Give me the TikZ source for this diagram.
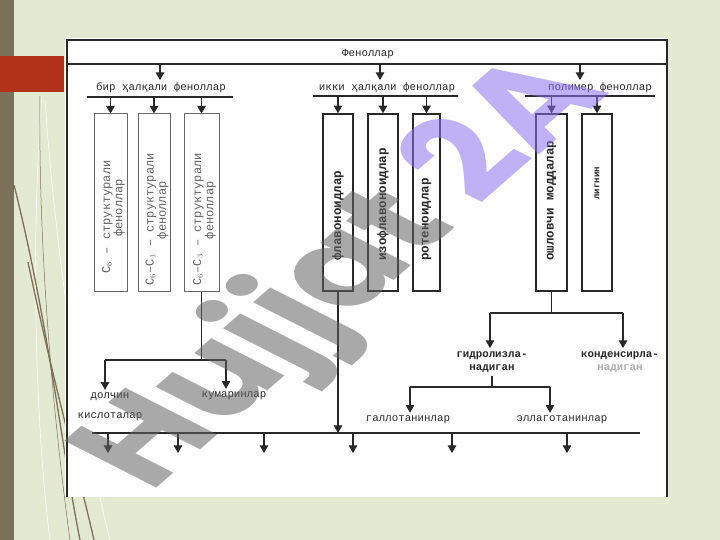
\documentclass[tikz,border=0pt]{standalone}
\usepackage{fontspec}
\setmainfont{Liberation Serif}
\setmonofont{Liberation Mono}
\newfontfamily\wmfont{Poppins}
\usepackage{tikz}
\usetikzlibrary{arrows,shapes,positioning}
\definecolor{bgcol}{RGB}{228,234,210}
\definecolor{barcol}{RGB}{122,113,88}
\definecolor{redcol}{RGB}{178,50,26}
\definecolor{ink}{RGB}{40,40,40}
\definecolor{faded}{RGB}{175,175,175}
\definecolor{wmgray}{RGB}{100,100,100}
\definecolor{wmpurple}{RGB}{138,113,238}
\tikzset{
  lbl/.style={font=\ttfamily\fontsize{10.8}{13}\selectfont, text=ink, inner sep=3pt, align=center},
  lblb/.style={lbl, font=\ttfamily\bfseries\fontsize{10.8}{13.5}\selectfont},
  cbox/.style={draw=ink, line width=1.5pt, minimum width=#1, minimum height=177, inner sep=0pt},
  cbox/.default=30,
  vtxt/.style={rotate=90, anchor=west, inner sep=0pt, align=center, text=ink,
    font=\ttfamily\bfseries\fontsize{12.5}{14}\selectfont},
  vsmall/.style={vtxt, text=black!62, font=\ttfamily\fontsize{12}{10}\selectfont},
  wire/.style={draw=ink, line width=1.1pt},
  sheetline/.style={draw=ink, line width=1.4pt},
  darkcurve/.style={draw=barcol, line width=1.3pt},
  lightcurve/.style={draw=white!70!bgcol, line width=0.8pt}
}
\begin{document}
\begin{tikzpicture}[x=1pt,y=-1pt,>=triangle 60]
  \useasboundingbox (0,0) rectangle (720,540);
  %slide background
    \fill[bgcol] (0,0) rectangle (720,540);
    \fill[barcol] (0,0) rectangle (14,540);
    \draw[lightcurve] (42,95) .. controls (30,250) and (36,430) .. (50,540);
    \draw[lightcurve] (45,100) .. controls (56,260) and (82,430) .. (110,540);
    \draw[barcol,line width=0.5pt] (40,96) .. controls (38,260) and (55,430) .. (70,540);
    \draw[darkcurve] (14,185) .. controls (48,320) and (62,450) .. (80,540);
    \draw[darkcurve] (28,262) .. controls (55,390) and (78,470) .. (94,540);
    \fill[redcol] (0,56) rectangle (64,92);
  %scanned sheet
    \fill[white] (65,38) rectangle (668,497);
    \draw[sheetline] (67,497) -- (67,40) -- (667,40) -- (667,497);
    \coordinate (tl) at (67,64);
    \coordinate (tr) at (667,64);
    \draw[sheetline] (tl) -- (tr);
    \node[lbl] (fen) at (368,54) {Феноллар};
  %group titles
    \node[lbl] (g1) at (161,88) {бир ҳалқали феноллар};
    \node[lbl] (g2) at (387,88) {икки ҳалқали феноллар};
    \node[lbl] (g3) at (600,88) {полимер феноллар};
    \coordinate (u1l) at (87,97);  \coordinate (u1r) at (233,97);
    \coordinate (u2l) at (313,96); \coordinate (u2r) at (458,96);
    \coordinate (u3l) at (525,96); \coordinate (u3r) at (655,96);
    \draw[wire] (u1l) -- (u1r);
    \draw[wire] (u2l) -- (u2r);
    \draw[wire] (u3l) -- (u3r);
  %boxes
    \node[cbox=33,draw=black!60,line width=1pt] (b1) at (110.5,202.5) {};
    \node[cbox=32,draw=black!60,line width=1pt] (b2) at (154,202.5) {};
    \node[cbox=35,draw=black!60,line width=1pt] (b3) at (201.5,202.5) {};
    \node[cbox=30] (b4) at (338,202.5) {};
    \node[cbox=30] (b5) at (383,202.5) {};
    \node[cbox=27] (b6) at (426.5,202.5) {};
    \node[cbox=31] (b7) at (551.5,202.5) {};
    \node[cbox=30] (b8) at (597,202.5) {};
  %box texts
    \node[vsmall] (t1) at ([xshift=3,yshift=18]b1.south) {C$_6$ – структурали\\\hspace*{18pt}феноллар};
    \node[vsmall] (t2) at ([xshift=3,yshift=6]b2.south) {C$_6$–C$_1$ – структурали\\\hspace*{18pt}феноллар};
    \node[vsmall] (t3) at ([xshift=3,yshift=6]b3.south) {C$_6$–C$_3$ – структурали\\\hspace*{18pt}феноллар};
    \node[vtxt] (t4) at ([yshift=31]b4.south) {флавоноидлар};
    \node[vtxt] (t5) at ([yshift=31]b5.south) {изофлавоноидлар};
    \node[vtxt] (t6) at ([yshift=31]b6.south) {ротеноидлар};
    \node[vtxt] (t7) at ([yshift=31]b7.south) {ошловчи моддалар};
    \node[vtxt,font=\ttfamily\bfseries\fontsize{9}{10}\selectfont] (t8) at ([yshift=92]b8.south) {лигнин};
  %lower labels
    \node[lbl] (dk) at (110,407) {долчин\\[7pt]кислоталар};
    \node[lbl] (kum) at (234,396) {кумаринлар};
    \node[lblb] (gid) at (492,362) {гидролизла-\\надиган};
    \node[lblb] (kon) at (620,362) {конденсирла-\\\textcolor{faded}{надиган}};
    \node[lbl] (gal) at (408,420) {галлотанинлар};
    \node[lbl] (ell) at (562,420) {эллаготанинлар};
  %split points
    \coordinate (s1l) at (105,360);  \coordinate (s1r) at (226,360);
    \coordinate (s2l) at (490,313);  \coordinate (s2r) at (623,313);
    \coordinate (s3l) at (410,387);  \coordinate (s3r) at (550,387);
    \coordinate (bl) at (92,433);    \coordinate (br) at (640,433);
  %draw directed edges
    \begin{scope}[every path/.style={wire}]
       \draw[->] (160,64) -- (160,80);
       \draw[->] (380,64) -- (380,80);
       \draw[->] (580,64) -- (580,80);
       \draw[->] (b1 |- u1l) -- (b1.north);
       \draw[->] (b2 |- u1l) -- (b2.north);
       \draw[->] (b3 |- u1l) -- (b3.north);
       \draw[->] (b4 |- u2l) -- (b4.north);
       \draw[->] (b5 |- u2l) -- (b5.north);
       \draw[->] (b6 |- u2l) -- (b6.north);
       \draw[->] (b7 |- u3l) -- (b7.north);
       \draw[->] (b8 |- u3l) -- (b8.north);
       %left branch
       \draw (b3.south) -- (b3.south |- s1l);
       \draw (s1l) -- (s1r);
       \draw[->] (s1l) -- (s1l |- dk.north);
       \draw[->] (s1r) -- (s1r |- kum.north);
       %right branches
       \draw (b7.south) -- (b7.south |- s2l);
       \draw (s2l) -- (s2r);
       \draw[->] (s2l) -- (s2l |- gid.north);
       \draw[->] (s2r) -- (s2r |- kon.north);
       \draw (gid.south) -- (gid.south |- s3l);
       \draw (s3l) -- (s3r);
       \draw[->] (s3l) -- (s3l |- gal.north);
       \draw[->] (s3r) -- (s3r |- ell.north);
       %bottom line
       \draw[->] (b4.south) -- (b4.south |- bl);
       \draw (bl) -- (br);
       \foreach \x [count=\i] in {108,178,264,353,452,567}{
         \coordinate (o\i) at (\x,453);
         \draw[->] (o\i |- bl) -- (o\i);
       }
    \end{scope}
  %watermark
    \begin{scope}[shift={(150,494)}, xscale=1.5, transform shape]
      \node[anchor=base west, rotate=52.6, inner sep=0pt, text opacity=0.55,
        font=\wmfont\bfseries\fontsize{110}{110}\selectfont] (wm) at (0,0)
        {\textcolor{wmgray}{Hujjat} \textcolor{wmpurple}{2A}};
    \end{scope}
\end{tikzpicture}
\end{document}
